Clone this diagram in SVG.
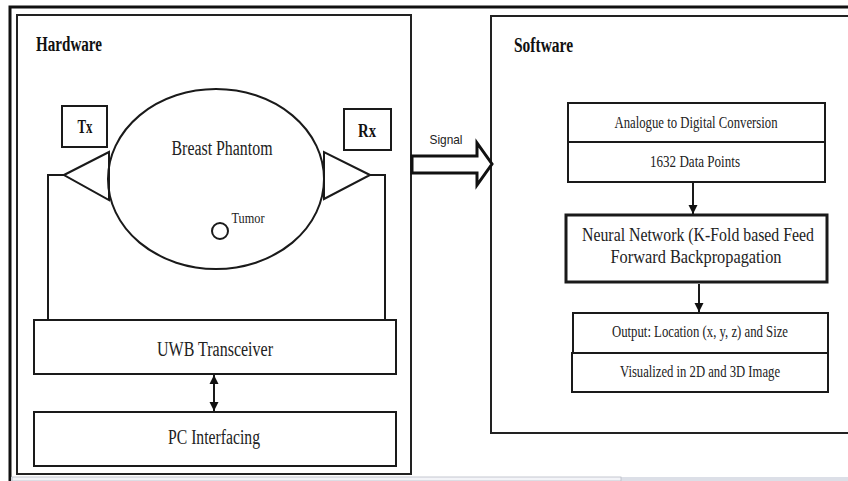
<svg xmlns="http://www.w3.org/2000/svg" width="848" height="481" viewBox="0 0 848 481">
<style>
  .box { fill: #ffffff; stroke: #1a1a1a; stroke-width: 2; }
  .frame { fill: none; stroke: #222; stroke-width: 2; }
  .lbl { font-family: "Liberation Serif", "Times New Roman", serif; fill: #222; text-anchor: middle; }
  .hd { font-family: "Liberation Serif", "Times New Roman", serif; font-weight: bold; fill: #111; }
  .wire { fill: none; stroke: #1a1a1a; stroke-width: 2; }
  .conn { stroke: #1a1a1a; stroke-width: 2; fill: none; }
</style>
<defs>
  <marker id="ah" viewBox="0 0 10 10" refX="10" refY="5" markerWidth="4.5" markerHeight="5.5" orient="auto-start-reverse" markerUnits="strokeWidth">
    <path d="M0,0 L10,5 L0,10 Z" fill="#111"/>
  </marker>
</defs>
<rect x="0" y="0" width="848" height="481" fill="#ffffff"/>
<!-- outer frame -->
<g id="outer-frame">
  <path d="M10,481 L10,7 L848,7" fill="none" stroke="#111" stroke-width="3"/>
</g>
<!-- bottom strip -->
<rect x="11" y="477" width="837" height="4" fill="#dcdfe7"/>
<rect x="12" y="477" width="609" height="4" fill="#f3f4f8" stroke="#b8bcc6" stroke-width="0.8"/>

<!-- Hardware -->
<g id="hardware">
  <rect x="17" y="15" width="394" height="459" class="frame"/>
  <text x="36" y="51" class="hd" font-size="20" textLength="66" lengthAdjust="spacingAndGlyphs">Hardware</text>
</g>
<g id="antenna-wires">
  <path d="M64,175 L48,175 L48,320" class="wire"/>
  <path d="M370,175 L385,175 L385,320" class="wire"/>
</g>
<g id="tx">
  <rect x="62" y="106" width="45" height="41" class="box"/>
  <text x="85" y="133" class="hd" font-size="18" text-anchor="middle" textLength="15" lengthAdjust="spacingAndGlyphs">Tx</text>
  <polygon points="64,175 109,152 109,200" fill="#fff" stroke="#1a1a1a" stroke-width="2"/>
</g>
<g id="rx">
  <rect x="344" y="109" width="47" height="41" class="box"/>
  <text x="367" y="137" class="hd" font-size="18" text-anchor="middle" textLength="18" lengthAdjust="spacingAndGlyphs">Rx</text>
  <polygon points="370,175 324,152 324,199" fill="#fff" stroke="#1a1a1a" stroke-width="2"/>
</g>
<g id="breast-phantom">
  <ellipse cx="216" cy="179" rx="108" ry="90" fill="none" stroke="#1a1a1a" stroke-width="2"/>
  <text x="222" y="155" class="lbl" font-size="20" textLength="101" lengthAdjust="spacingAndGlyphs">Breast Phantom</text>
</g>
<g id="tumor">
  <circle cx="220" cy="231" r="8" fill="#fff" stroke="#1a1a1a" stroke-width="2"/>
  <text x="248" y="223" class="lbl" font-size="14" textLength="33" lengthAdjust="spacingAndGlyphs">Tumor</text>
</g>
<g id="uwb-transceiver">
  <rect x="34" y="320" width="362" height="54" class="box"/>
  <text x="215" y="356" class="lbl" font-size="20" textLength="116" lengthAdjust="spacingAndGlyphs">UWB Transceiver</text>
</g>
<g id="pc-interfacing">
  <rect x="34" y="412" width="362" height="54" class="box"/>
  <text x="214" y="444" class="lbl" font-size="20" textLength="92" lengthAdjust="spacingAndGlyphs">PC Interfacing</text>
</g>

<!-- Software -->
<g id="software">
  <path d="M848,16 L491,16 L491,433 L848,433" class="frame"/>
  <text x="514" y="52" class="hd" font-size="20" textLength="59" lengthAdjust="spacingAndGlyphs">Software</text>
</g>
<g id="adc">
  <rect x="568" y="103" width="257" height="39" class="box"/>
  <text x="696" y="128" class="lbl" font-size="16" textLength="163" lengthAdjust="spacingAndGlyphs">Analogue to Digital Conversion</text>
</g>
<g id="data-points">
  <rect x="568" y="142" width="257" height="40" class="box"/>
  <text x="695" y="167" class="lbl" font-size="16" textLength="90" lengthAdjust="spacingAndGlyphs">1632 Data Points</text>
</g>
<g id="neural-network">
  <rect x="566" y="215" width="261" height="67" fill="#fff" stroke="#1a1a1a" stroke-width="3"/>
  <text x="698" y="241" class="lbl" font-size="18" textLength="232" lengthAdjust="spacingAndGlyphs">Neural Network (K-Fold based Feed</text>
  <text x="696" y="263" class="lbl" font-size="18" textLength="171" lengthAdjust="spacingAndGlyphs">Forward Backpropagation</text>
</g>
<g id="output">
  <rect x="573" y="313" width="255" height="40" class="box"/>
  <text x="700" y="337" class="lbl" font-size="16" textLength="176" lengthAdjust="spacingAndGlyphs">Output: Location (x, y, z) and Size</text>
</g>
<g id="visualized">
  <rect x="572" y="353" width="256" height="39" class="box"/>
  <text x="700" y="377" class="lbl" font-size="16" textLength="160" lengthAdjust="spacingAndGlyphs">Visualized in 2D and 3D Image</text>
</g>

<!-- Connectors -->
<g id="connectors">
  <line x1="214" y1="375" x2="214" y2="411" class="conn" marker-start="url(#ah)" marker-end="url(#ah)"/>
  <line x1="693" y1="183" x2="693" y2="214" class="conn" marker-end="url(#ah)"/>
  <line x1="699" y1="284" x2="699" y2="312" class="conn" marker-end="url(#ah)"/>
  <g id="signal-arrow">
    <polygon points="412,156 477,156 477,143 492,164 477,185 477,173 412,173" fill="#fff" stroke="#111" stroke-width="3" stroke-linejoin="miter"/>
    <text x="446" y="144" font-family="Liberation Sans, Arial, sans-serif" font-size="13" fill="#222" text-anchor="middle" textLength="33" lengthAdjust="spacingAndGlyphs">Signal</text>
  </g>
</g>
</svg>
